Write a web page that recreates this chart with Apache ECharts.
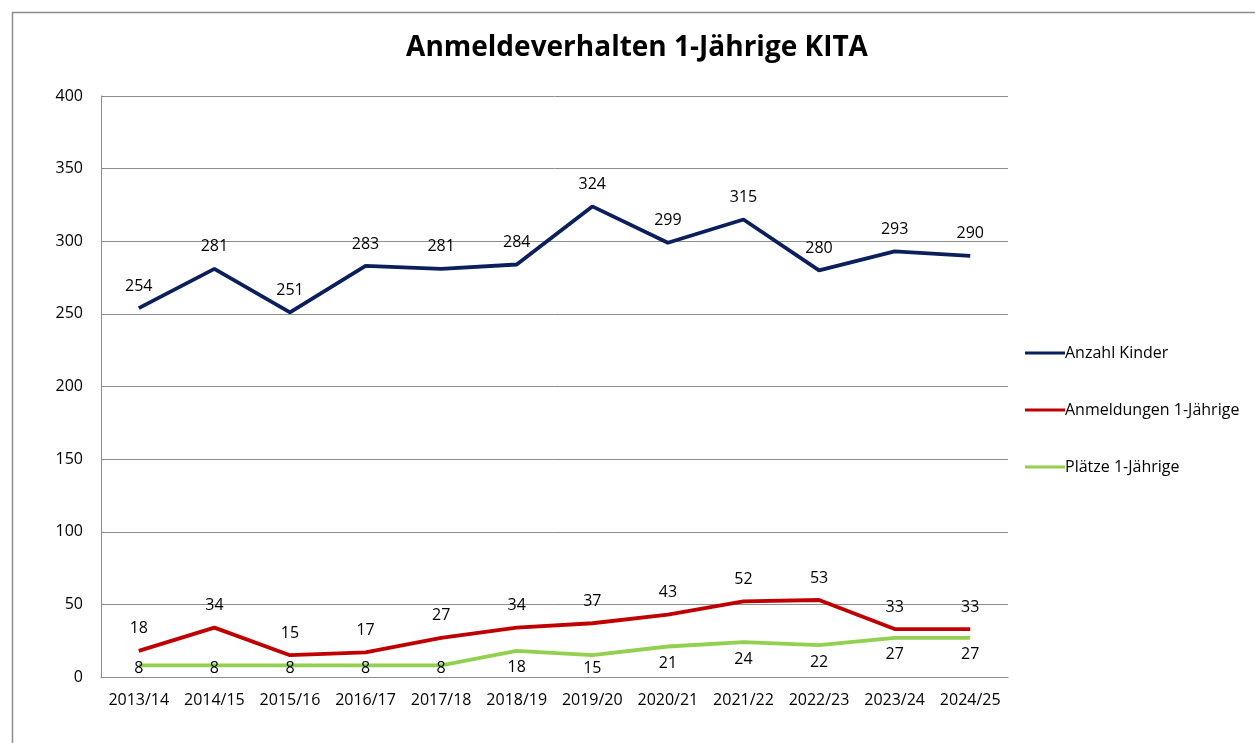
<!DOCTYPE html>
<html>
<head>
<meta charset="utf-8">
<script src="https://cdn.jsdelivr.net/npm/echarts@6/dist/echarts.min.js"></script>
<style>
  html,body{margin:0;padding:0;background:#fff;}
  #main{width:1255px;height:743px;}
</style>
</head>
<body>
<div id="main"></div>
<script>
var years = ['2013/14','2014/15','2015/16','2016/17','2017/18','2018/19','2019/20','2020/21','2021/22','2022/23','2023/24','2024/25'];
var kinder = [254,281,251,283,281,284,324,299,315,280,293,290];
var anmeldungen = [18,34,15,17,27,34,37,43,52,53,33,33];
var plaetze = [8,8,8,8,8,18,15,21,24,22,27,27];
var yTicks = [0,50,100,150,200,250,300,350,400];

var font = '"Open Sans", "Noto Sans", sans-serif';
var myChart = echarts.init(document.getElementById('main'));

// Labels sollen nicht unter die x-Achse rutschen
function keepAboveAxis(p){
    var r = p.labelRect;
    var c = r.y + r.height / 2;
    if (c > 668) return { dy: 668 - c };
    return {};
}

var option = {
    backgroundColor: '#fff',
    animation: false,
    textStyle: { fontFamily: font },
    title: {
        text: 'Anmeldeverhalten 1-Jährige KITA',
        left: 632, top: 29, textAlign: 'center',
        textStyle: { fontSize: 28, fontWeight: 'bold', color: '#000', fontFamily: font }
    },
    graphic: [{
        type: 'rect', left: 10, top: 10, silent: true,
        shape: { width: 1300, height: 800 },
        style: { fill: 'none', stroke: '#8c8c8c', lineWidth: 1.5 }
    }],
    legend: {
        orient: 'vertical', left: 1020, top: 340,
        itemGap: 41, itemWidth: 40, itemHeight: 16,
        icon: 'path://M0,6.5 L40,6.5 L40,9.5 L0,9.5 Z',
        textStyle: { fontSize: 16, color: '#000', padding: [0,0,0,-5] },
        data: ['Anzahl Kinder','Anmeldungen 1-Jährige','Plätze 1-Jährige']
    },
    grid: { left: 101, right: 247, top: 96, bottom: 66, containLabel: false },
    xAxis: {
        type: 'category', data: years, boundaryGap: true,
        axisLine: { lineStyle: { color: '#8c8c8c', width: 1 } },
        axisTick: { show: false },
        axisLabel: { color: '#000', fontSize: 16, margin: 15, interval: 0 }
    },
    yAxis: {
        type: 'value', min: yTicks[0], max: yTicks[yTicks.length-1], interval: 50,
        axisLine: { show: true, lineStyle: { color: '#8c8c8c' } },
        axisTick: { show: false },
        axisLabel: { color: '#000', fontSize: 16, margin: 18 },
        splitLine: { lineStyle: { color: '#8c8c8c', width: 1 } }
    },
    series: [
        {
            name: 'Anzahl Kinder', type: 'line', data: kinder,
            symbol: 'circle', symbolSize: 0, showAllSymbol: true, color: '#0a1f5c',
            lineStyle: { width: 3.8, color: '#0a1f5c' },
            label: { show: true, position: 'top', distance: 14, color: '#000', fontSize: 16 }
        },
        {
            name: 'Anmeldungen 1-Jährige', type: 'line', data: anmeldungen,
            symbol: 'circle', symbolSize: 0, showAllSymbol: true, color: '#c00000',
            lineStyle: { width: 3.8, color: '#c00000' },
            label: { show: true, position: 'top', distance: 14, color: '#000', fontSize: 16 }
        },
        {
            name: 'Plätze 1-Jährige', type: 'line', data: plaetze,
            symbol: 'circle', symbolSize: 0, showAllSymbol: true, color: '#92d050',
            lineStyle: { width: 3.8, color: '#92d050' },
            label: { show: true, position: 'bottom', distance: 9, color: '#000', fontSize: 16 },
            labelLayout: keepAboveAxis
        }
    ]
};

myChart.setOption(option);
</script>
</body>
</html>
